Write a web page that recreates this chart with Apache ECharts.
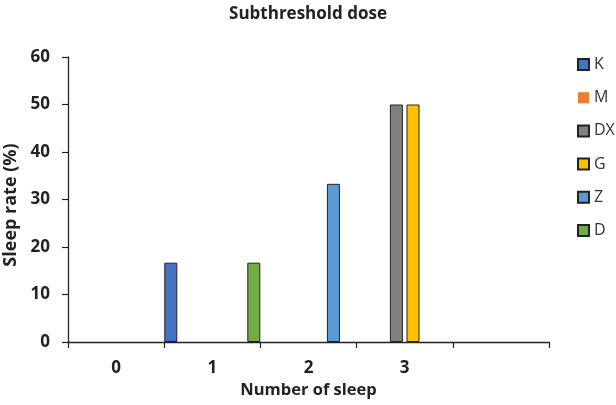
<!DOCTYPE html>
<html><head><meta charset="utf-8">
<script src="https://cdn.jsdelivr.net/npm/echarts@6/dist/echarts.min.js"></script>
<style>html,body{margin:0;padding:0;background:#fff}#c{width:616px;height:405px}</style>
</head><body><div id="c"></div>
<script>
var categories = ['0', '1', '2', '3', ''];
var seriesNames = ['K', 'M', 'DX', 'G', 'Z', 'D'];
var K  = [0, 16.7, 0, 0, 0];
var M  = [0, 0, 0, 0, 0];
var DX = [0, 0, 0, 50, 0];
var G  = [0, 0, 0, 50, 0];
var Z  = [0, 0, 33.3, 0, 0];
var D  = [0, 16.7, 0, 0, 0];
var yTicks = [0, 10, 20, 30, 40, 50, 60];

var colors = ['#4472C4', '#ED7D31', '#808080', '#FFC000', '#5B9BD5', '#70AD47'];
var values = [K, M, DX, G, Z, D];
var font = 'Open Sans, Liberation Sans, sans-serif';

var chart = echarts.init(document.getElementById('c'));
var series = seriesNames.map(function (n, i) {
  return {
    name: n, type: 'bar',
    // zero-height bars are not drawn (as in the reference)
    data: values[i].map(function (v) { return v === 0 ? null : v; }),
    barWidth: 13, barGap: '27.7%',
    itemStyle: { color: colors[i], borderColor: '#222', borderWidth: n === 'M' ? 0 : 1 },
    emphasis: { disabled: true }
  };
});
chart.setOption({
  animation: false,
  title: { text: 'Subthreshold dose', left: 303, textAlign: 'center', top: 1,
    textStyle: { fontFamily: font, fontSize: 17, fontWeight: 'bold', color: '#222' } },
  legend: { orient: 'vertical', left: 577, top: 56, itemGap: 16.2, itemWidth: 11, itemHeight: 11,
    icon: 'rect', data: seriesNames, padding: 0,
    textStyle: { fontFamily: font, fontSize: 16, lineHeight: 17, color: '#333' } },
  grid: { left: 68, right: 67, top: 57, bottom: 63, containLabel: false, outerBoundsMode: 'none' },
  xAxis: {
    type: 'category', data: categories,
    name: 'Number of sleep', nameLocation: 'middle', nameGap: 40,
    nameTextStyle: { fontFamily: font, fontSize: 16.5, fontWeight: 'bold', color: '#222' },
    axisLine: { show: true, lineStyle: { color: '#222', width: 1.3 } },
    axisTick: { show: true, alignWithLabel: false, length: 6, lineStyle: { color: '#222', width: 1.2 } },
    axisLabel: { fontFamily: font, fontSize: 17, fontWeight: 'bold', color: '#222', margin: 18 }
  },
  yAxis: {
    type: 'value', min: yTicks[0], max: yTicks[yTicks.length - 1], interval: 10,
    name: 'Sleep rate (%)', nameLocation: 'middle', nameGap: 43, nameRotate: 90,
    nameTextStyle: { fontFamily: font, fontSize: 18, fontWeight: 'bold', color: '#222', padding: [0, 11, 0, 0] },
    axisLine: { show: true, lineStyle: { color: '#222', width: 1.3 } },
    axisTick: { show: true, length: 6, lineStyle: { color: '#222', width: 1.2 } },
    splitLine: { show: false },
    axisLabel: { fontFamily: font, fontSize: 17, fontWeight: 'bold', color: '#222', margin: 18 }
  },
  series: series
});
</script></body></html>
